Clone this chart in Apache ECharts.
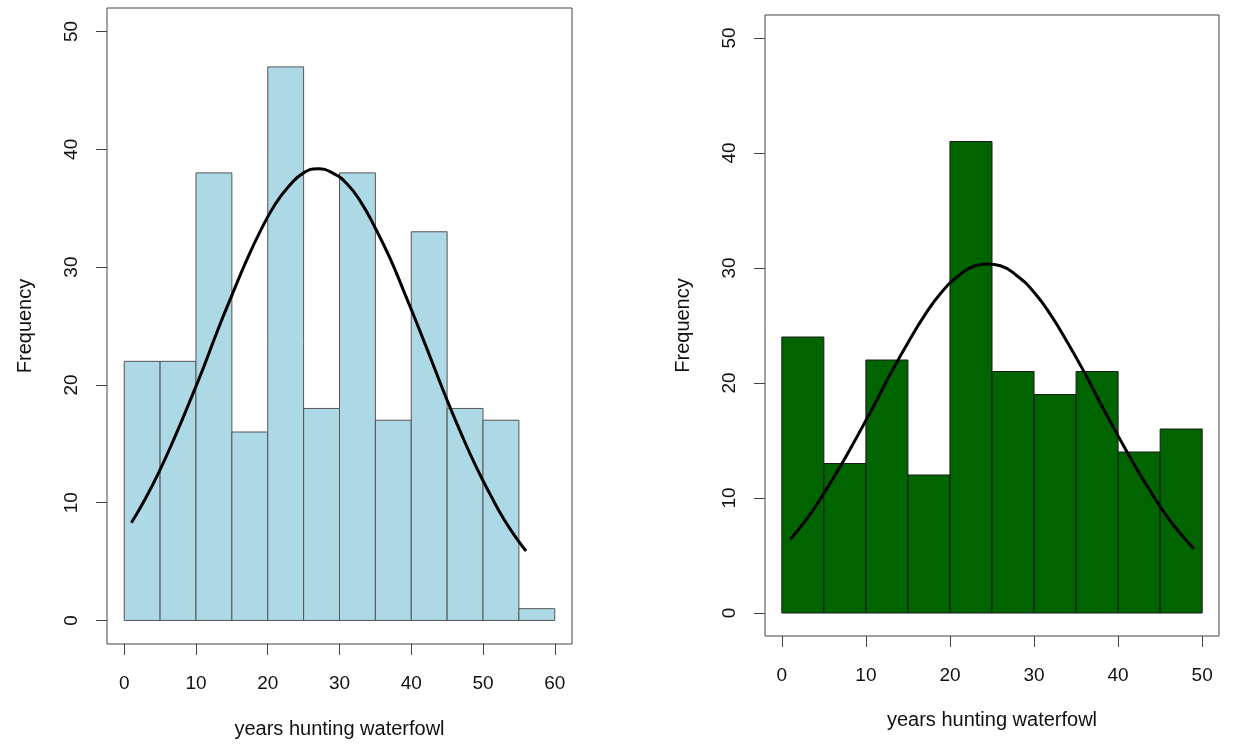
<!DOCTYPE html>
<html>
<head>
<meta charset="utf-8">
<script src="https://cdn.jsdelivr.net/npm/echarts@6/dist/echarts.min.js"></script>
<style>
  html, body { margin: 0; padding: 0; background: #fff; }
  #main { width: 1233px; height: 749px; }
</style>
</head>
<body>
<div id="main"></div>
<script>
// left histogram (bins of width 5)
var leftBreaks = [0, 5, 10, 15, 20, 25, 30, 35, 40, 45, 50, 55, 60];
var leftCounts = [22, 22, 38, 16, 47, 18, 38, 17, 33, 18, 17, 1];
// right histogram
var rightBreaks = [0, 5, 10, 15, 20, 25, 30, 35, 40, 45, 50];
var rightCounts = [24, 13, 22, 12, 41, 21, 19, 21, 14, 16];

// fitted curves
var leftCurveX = [1, 3, 5, 7, 9, 11, 13, 15, 17, 19, 21, 23, 25, 27, 29, 31, 33, 35, 37, 39, 41, 43, 45, 47, 49, 51, 53, 55, 56];
var leftCurveY = [8.3, 10.4, 12.8, 15.5, 18.4, 21.4, 24.6, 27.6, 30.5, 33.1, 35.3, 36.9, 38.0, 38.35, 38.0, 37.1, 35.5, 33.3, 30.8, 27.9, 24.9, 21.8, 18.7, 15.8, 13.1, 10.7, 8.5, 6.7, 5.9];
var rightCurveX = [1, 3, 5, 7, 9, 11, 13, 15, 17, 19, 21, 23, 24.5, 26, 28, 30, 32, 34, 36, 38, 40, 42, 44, 46, 48, 49];
var rightCurveY = [6.4, 8.2, 10.4, 12.8, 15.4, 18.1, 20.9, 23.5, 25.9, 27.9, 29.3, 30.2, 30.35, 30.2, 29.3, 27.9, 25.9, 23.5, 20.9, 18.1, 15.4, 12.8, 10.4, 8.2, 6.4, 5.6];

var xTicksLeft = [0, 10, 20, 30, 40, 50, 60];
var xTicksRight = [0, 10, 20, 30, 40, 50];
var yTicks = [0, 10, 20, 30, 40, 50];

function binData(breaks, counts) {
    var out = [];
    for (var i = 0; i < counts.length; i++) {
        out.push([breaks[i], breaks[i + 1], counts[i]]);
    }
    return out;
}

function pairs(xs, ys) {
    return xs.map(function (x, i) { return [x, ys[i]]; });
}

function histRender(fill, stroke) {
    return function (params, api) {
        var p0 = api.coord([api.value(0), api.value(2)]);
        var p1 = api.coord([api.value(1), 0]);
        return {
            type: 'rect',
            shape: { x: p0[0], y: p0[1], width: p1[0] - p0[0], height: p1[1] - p0[1] },
            style: { fill: fill, stroke: stroke, lineWidth: 1 }
        };
    };
}

var font = 'Liberation Sans, Arial, sans-serif';
var txt = { color: '#111', fontSize: 19, fontFamily: font };

function xAxisOpt(idx, min, max, ticks, gap) {
    return {
        type: 'value', gridIndex: idx, min: min, max: max,
        name: 'years hunting waterfowl', nameLocation: 'middle', nameGap: gap,
        nameTextStyle: { color: '#111', fontSize: 20, fontFamily: font },
        axisLine: { show: false, onZero: false },
        axisTick: { show: true, customValues: ticks, length: 11, inside: false, lineStyle: { color: '#444', width: 1 } },
        axisLabel: Object.assign({ customValues: ticks, margin: 30 }, txt),
        splitLine: { show: false }
    };
}

function yAxisOpt(idx) {
    return {
        type: 'value', gridIndex: idx, min: -2, max: 52,
        name: 'Frequency', nameLocation: 'middle', nameGap: 72, nameRotate: 90,
        nameTextStyle: { color: '#111', fontSize: 20, fontFamily: font },
        axisLine: { show: false, onZero: false },
        axisTick: { show: true, customValues: yTicks, length: 11, inside: false, lineStyle: { color: '#444', width: 1 } },
        axisLabel: Object.assign({ customValues: yTicks, margin: 26, rotate: 90 }, txt),
        splitLine: { show: false }
    };
}

var chart = echarts.init(document.getElementById('main'));

var option = {
    backgroundColor: '#fff',
    animation: false,
    grid: [
        { left: 107, top: 8, width: 465, height: 636, show: true, borderColor: '#444', borderWidth: 1, backgroundColor: 'transparent' },
        { left: 765, top: 15, width: 454, height: 621, show: true, borderColor: '#444', borderWidth: 1, backgroundColor: 'transparent' }
    ],
    xAxis: [
        xAxisOpt(0, -2.4, 62.4, xTicksLeft, 75),
        xAxisOpt(1, -2, 52, xTicksRight, 74)
    ],
    yAxis: [yAxisOpt(0), yAxisOpt(1)],
    series: [
        {
            type: 'custom', xAxisIndex: 0, yAxisIndex: 0,
            renderItem: histRender('#ADD8E6', '#555'),
            data: binData(leftBreaks, leftCounts)
        },
        {
            type: 'line', xAxisIndex: 0, yAxisIndex: 0, z: 5,
            smooth: true, showSymbol: false,
            lineStyle: { color: '#000', width: 3 },
            data: pairs(leftCurveX, leftCurveY)
        },
        {
            type: 'custom', xAxisIndex: 1, yAxisIndex: 1,
            renderItem: histRender('#006400', '#1a1a1a'),
            data: binData(rightBreaks, rightCounts)
        },
        {
            type: 'line', xAxisIndex: 1, yAxisIndex: 1, z: 5,
            smooth: true, showSymbol: false,
            lineStyle: { color: '#000', width: 3 },
            data: pairs(rightCurveX, rightCurveY)
        }
    ]
};

chart.setOption(option);
</script>
</body>
</html>
